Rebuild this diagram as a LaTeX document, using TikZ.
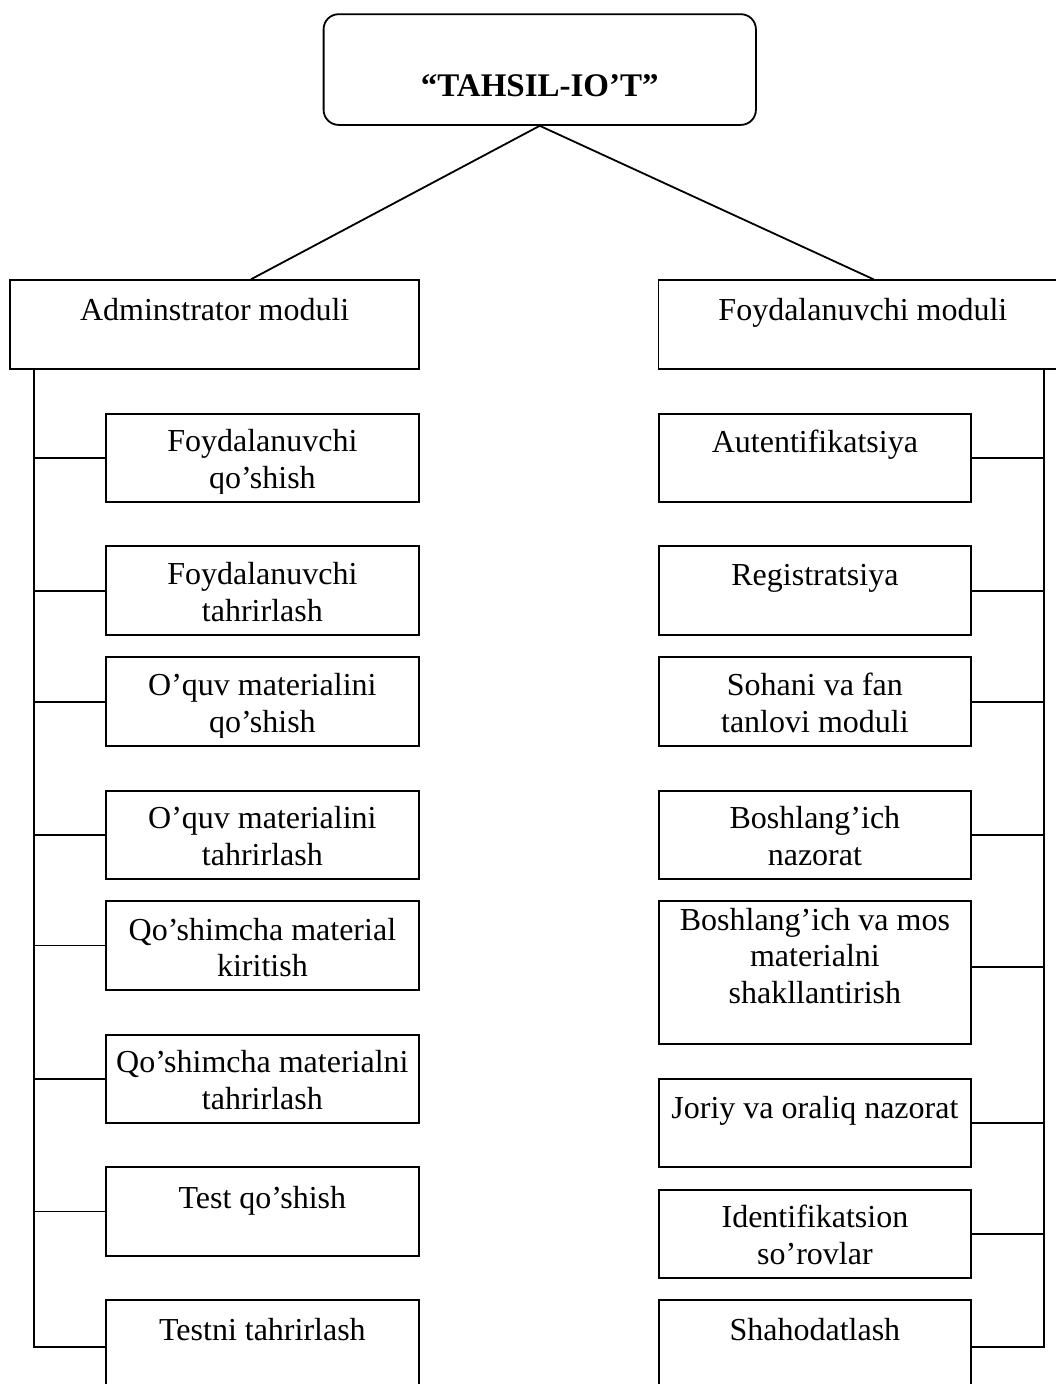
\documentclass[tikz,border=0pt]{standalone}
\usepackage{fontspec}
\setmainfont{Liberation Serif}
\newcommand{\boxtext}[1]{\parbox[t]{320pt}{\centering #1}}
\begin{document}
\begin{tikzpicture}[x=1pt,y=-1pt,
  bx/.style={draw, line width=1.8pt, rectangle, inner sep=0pt, anchor=north west, minimum width=313pt},
  rbx/.style={bx, minimum width=312.6pt},
  modbx/.style={bx, minimum width=409pt, minimum height=89pt},
  txt/.style={anchor=base, inner sep=0pt, font=\fontsize{32}{36.8}\selectfont},
  conn/.style={line width=1.8pt}]
\useasboundingbox (0,0) rectangle (1055,1384);
% top
\node[draw, line width=1.8pt, rounded corners=15pt, anchor=north west, minimum width=432.3pt, minimum height=110.7pt, inner sep=0pt] (top) at (322.7,13.3) {};
\node[txt, font=\fontsize{33}{38}\selectfont\bfseries] (topt) at ([yshift=-83.4pt]top.north) {“TAHSIL-IO’T”};
% modules
\node[modbx] (adm) at (9.3,279.3) {};
\node[txt] (admt) at ([yshift=-41.4pt]adm.north) {Adminstrator moduli};
\node[modbx] (fm) at (657.5,279.3) {};
\node[txt] (fmt) at ([yshift=-41.4pt]fm.north) {Foydalanuvchi moduli};
\coordinate (admtop) at ([xshift=241.7pt]adm.north west);
\coordinate (fmtop) at ([xshift=216pt]fm.north west);
\draw[conn] (top.south) -- (admtop);
\draw[conn] (top.south) -- (fmtop);
% left column
\node[bx, minimum height=88.6pt] (a1) at (105,412.7) {};
\node[bx, minimum height=89pt] (a2) at (105,545.3) {};
\node[bx, minimum height=89pt] (a3) at (105,656.3) {};
\node[bx, minimum height=88.3pt] (a4) at (105,789.7) {};
\node[bx, minimum height=89pt] (a5) at (105,900) {};
\node[bx, minimum height=88.3pt] (a6) at (105,1033.7) {};
\node[bx, minimum height=89pt] (a7) at (105,1166) {};
\node[bx, minimum height=93pt] (a8) at (105,1299.3) {};
\begin{scope}
\clip (a1.north west) rectangle ([yshift=10pt]a1.south east);
\node[txt] (a1t) at ([yshift=-39pt]a1.north) {\boxtext{Foydalanuvchi\\qo’shish}};
\end{scope}
\node[txt] (a2t) at ([yshift=-39pt]a2.north) {\boxtext{Foydalanuvchi\\tahrirlash}};
\begin{scope}
\clip (a3.north west) rectangle ([yshift=10pt]a3.south east);
\node[txt] (a3t) at ([yshift=-39pt]a3.north) {\boxtext{O’quv materialini\\qo’shish}};
\end{scope}
\node[txt] (a4t) at ([yshift=-39pt]a4.north) {\boxtext{O’quv materialini\\tahrirlash}};
\node[txt] (a5t) at ([yshift=-40pt]a5.north) {\boxtext{Qo’shimcha material\\kiritish}};
\node[txt] (a6t) at ([yshift=-39pt]a6.north) {\boxtext{Qo’shimcha materialni\\tahrirlash}};
\node[txt] (a7t) at ([yshift=-42pt]a7.north) {\boxtext{Test qo’shish}};
\node[txt] (a8t) at ([yshift=-40.7pt]a8.north) {\boxtext{Testni tahrirlash}};
% right column
\node[rbx, minimum height=88.6pt] (r1) at (657.7,412.7) {};
\node[rbx, minimum height=89pt] (r2) at (657.7,545.3) {};
\node[rbx, minimum height=89pt] (r3) at (657.7,656.3) {};
\node[rbx, minimum height=88.3pt] (r4) at (657.7,789.7) {};
\node[rbx, minimum height=143.3pt] (r5) at (657.7,900) {};
\node[rbx, minimum height=88.6pt] (r6) at (657.7,1077.7) {};
\node[rbx, minimum height=88.3pt] (r7) at (657.7,1188.7) {};
\node[rbx, minimum height=93pt] (r8) at (657.7,1299.3) {};
\node[txt] (r1t) at ([yshift=-40pt]r1.north) {\boxtext{Autentifikatsiya}};
\node[txt] (r2t) at ([yshift=-40pt]r2.north) {\boxtext{Registratsiya}};
\node[txt] (r3t) at ([yshift=-39pt]r3.north) {\boxtext{Sohani va fan\\tanlovi moduli}};
\node[txt] (r4t) at ([yshift=-39pt]r4.north) {\boxtext{Boshlang’ich\\nazorat}};
\node[txt] (r5t) at ([yshift=-30pt]r5.north) {\boxtext{Boshlang’ich va mos\\materialni\\shakllantirish}};
\node[txt] (r6t) at ([yshift=-40.6pt]r6.north) {\boxtext{Joriy va oraliq nazorat}};
\node[txt] (r7t) at ([yshift=-39pt]r7.north) {\boxtext{Identifikatsion\\so’rovlar}};
\node[txt] (r8t) at ([yshift=-40.7pt]r8.north) {\boxtext{Shahodatlash}};
% buses
\coordinate (lb) at ([xshift=24.4pt]adm.south west);
\coordinate (rb) at ([xshift=-24.5pt]fm.south east);
\draw[conn] (lb) |- (a8.west);
\foreach \i in {1,...,7} {\draw[conn] (lb |- a\i.west) -- (a\i.west);}
\draw[conn] (rb) |- (r8.east);
\foreach \i in {1,...,4,6,7} {\draw[conn] (rb |- r\i.east) -- (r\i.east);}
\draw[conn] (rb |- 0,966.7) -- (r5.east |- 0,966.7);
\end{tikzpicture}
\end{document}
